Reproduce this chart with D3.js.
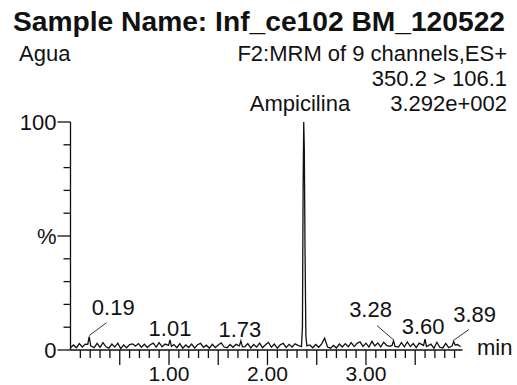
<!DOCTYPE html>
<html>
<head>
<meta charset="utf-8">
<script src="https://cdn.jsdelivr.net/npm/d3@7"></script>
<style>
  body { margin: 0; background: #fff; }
  svg text { font-family: "Liberation Sans", Arial, sans-serif; fill: #111; }
</style>
</head>
<body>
<svg id="chart" width="517" height="385"></svg>
<script>
// Trace data: baseline noise sampled every 0.03 min, plus the peaks
const scanStep = 0.03;
const noisePct = [
  1.0, 2.2, 1.0, 2.8, 1.3, 2.6, 3.0, 2.0, 1.0, 2.9, 1.2, 3.2, 1.4, 0.8, 2.6, 1.3, 3.0, 0.6, 2.2, 1.0,
  2.4, 2.7, 1.7, 2.8, 1.2, 2.5, 1.1, 2.3, 3.0, 1.3, 3.2, 1.4, 2.6, 3.0, 2.0, 2.4, 1.0, 2.8, 0.8, 2.2,
  1.1, 2.6, 0.9, 2.3, 2.9, 1.2, 2.1, 0.8, 2.5, 1.1, 2.2, 3.1, 1.3, 1.0, 2.4, 1.2, 2.5, 2.0, 1.8, 1.4,
  2.8, 0.9, 2.4, 1.3, 3.0, 1.0, 2.3, 3.3, 1.2, 2.6, 0.8, 2.3, 2.9, 1.1, 2.5, 1.3, 2.7, 2.0, 1.5, 1.5,
  1.5, 2.2, 1.0, 2.4, 1.2, 2.7, 5.2, 1.3, 0.8, 2.0, 0.9, 2.6, 1.3, 2.8, 1.4, 3.2, 1.5, 2.9, 3.6, 1.6,
  3.0, 1.3, 3.8, 1.8, 3.1, 1.4, 3.4, 2.0, 1.6, 2.0, 2.0, 1.3, 3.2, 1.4, 3.5, 1.5, 2.8, 1.0, 3.0, 1.2,
  2.0, 1.1, 2.6, 0.8, 3.4, 1.2, 0.9, 2.9, 1.0, 2.0, 2.0, 2.4, 1.4
];
const peakRt  = [0.175, 0.19, 0.205, 0.995, 1.01, 1.025, 1.715, 1.73, 1.745,
                 2.345, 2.355, 2.362, 2.368, 2.374, 2.381, 2.39, 2.40,
                 3.265, 3.28, 3.295, 3.585, 3.60, 3.615, 3.875, 3.89, 3.905];
const peakPct = [2.5, 5.9, 1.8, 2.0, 4.4, 1.6, 1.8, 4.0, 1.5,
                 1.5, 10, 72, 100, 88, 45, 6, 1.8,
                 2.0, 4.0, 1.6, 2.0, 4.8, 1.5, 1.8, 3.8, 2.2];
const labelRt = [0.19, 1.01, 1.73, 3.28, 3.60, 3.89];
const xTickLabels = [1.00, 2.00, 3.00];
const yTickLabels = [[0, "0"], [50, "%"], [100, "100"]];

const header = {
  title: "Sample Name: Inf_ce102 BM_120522",
  left: "Agua",
  lines: ["F2:MRM of 9 channels,ES+", "350.2 > 106.1", "3.292e+002"],
  compound: "Ampicilina"
};

// label placement relative to the peak apex (px); lead = draw leader line
const labelLayout = [
  { dx: 24, dy: -22, lead: true },
  { dx: 0, dy: -4, lead: false },
  { dx: -1, dy: -4, lead: false },
  { dx: -23, dy: -24, lead: true },
  { dx: -2, dy: -5, lead: false },
  { dx: 21, dy: -19, lead: true }
];

const svg = d3.select("#chart");
const x = d3.scaleLinear().domain([0, 3.97]).range([70.5, 461.5]);
const y = d3.scaleLinear().domain([0, 100]).range([350, 122]);

// merge noise and peaks, dropping noise samples that sit on a peak
const trace = noisePct.map((v, i) => [i * scanStep, v])
  .filter(([t]) => !peakRt.some(p => Math.abs(p - t) < 0.02))
  .concat(peakRt.map((t, i) => [t, peakPct[i]]))
  .sort((a, b) => a[0] - b[0]);

const line = d3.line().x(d => x(d[0])).y(d => y(d[1]));

svg.append("path")
  .datum(trace)
  .attr("fill", "none")
  .attr("stroke", "#111")
  .attr("stroke-width", 1.3)
  .attr("stroke-linejoin", "miter")
  .attr("d", line);

// axes
const axisG = svg.append("g").attr("stroke", "#111").attr("stroke-width", 1.3);
axisG.append("line").attr("x1", x(0)).attr("x2", x(0)).attr("y1", y(100)).attr("y2", y(0));
axisG.append("line").attr("x1", x(0)).attr("x2", x(3.97) + 1).attr("y1", y(0)).attr("y2", y(0));

axisG.selectAll(".yt").data(d3.range(0, 101, 10)).enter().append("line")
  .attr("x1", d => x(0) - (d % 50 === 0 ? 13 : 7))
  .attr("x2", x(0))
  .attr("y1", d => y(d)).attr("y2", d => y(d));

axisG.selectAll(".xt").data(d3.range(1, 40)).enter().append("line")
  .attr("x1", d => x(d / 10)).attr("x2", d => x(d / 10))
  .attr("y1", y(0))
  .attr("y2", d => y(0) + (d % 5 === 0 ? 15 : 8));

svg.selectAll(".ylab").data(yTickLabels).enter().append("text")
  .attr("x", x(0) - 14).attr("y", d => y(d[0])).attr("dy", "0.35em")
  .attr("text-anchor", "end").attr("font-size", 22)
  .text(d => d[1]);

svg.selectAll(".xlab").data(xTickLabels).enter().append("text")
  .attr("x", d => x(d)).attr("y", 381)
  .attr("text-anchor", "middle").attr("font-size", 21)
  .text(d => d.toFixed(2));

svg.append("text").attr("x", 477).attr("y", 355).attr("font-size", 22).text("min");

// peak labels
const apex = t => {
  const p = trace.find(d => Math.abs(d[0] - t) < 1e-6);
  return [x(p[0]), y(p[1])];
};
labelRt.forEach((t, i) => {
  const [px, py] = apex(t);
  const L = labelLayout[i];
  svg.append("text")
    .attr("x", px + L.dx).attr("y", py + L.dy)
    .attr("text-anchor", "middle").attr("font-size", 22)
    .text(t.toFixed(2));
  if (L.lead) {
    const lx = px + L.dx * 0.72, ly = py + L.dy * 0.72 + 2;
    svg.append("line")
      .attr("x1", px).attr("y1", py - 1).attr("x2", lx).attr("y2", ly)
      .attr("stroke", "#333").attr("stroke-width", 1);
  }
});

// header texts
svg.append("text").attr("x", 13).attr("y", 31)
  .attr("font-size", 27).attr("font-weight", "bold")
  .attr("textLength", 492).attr("lengthAdjust", "spacingAndGlyphs")
  .text(header.title);
svg.append("text").attr("x", 19).attr("y", 61).attr("font-size", 22).text(header.left);
header.lines.forEach((s, i) => {
  svg.append("text").attr("x", 507).attr("y", 61 + i * 25)
    .attr("text-anchor", "end").attr("font-size", 22).text(s);
});
svg.append("text").attr("x", 300).attr("y", 111)
  .attr("text-anchor", "middle").attr("font-size", 22).text(header.compound);
</script>
</body>
</html>
